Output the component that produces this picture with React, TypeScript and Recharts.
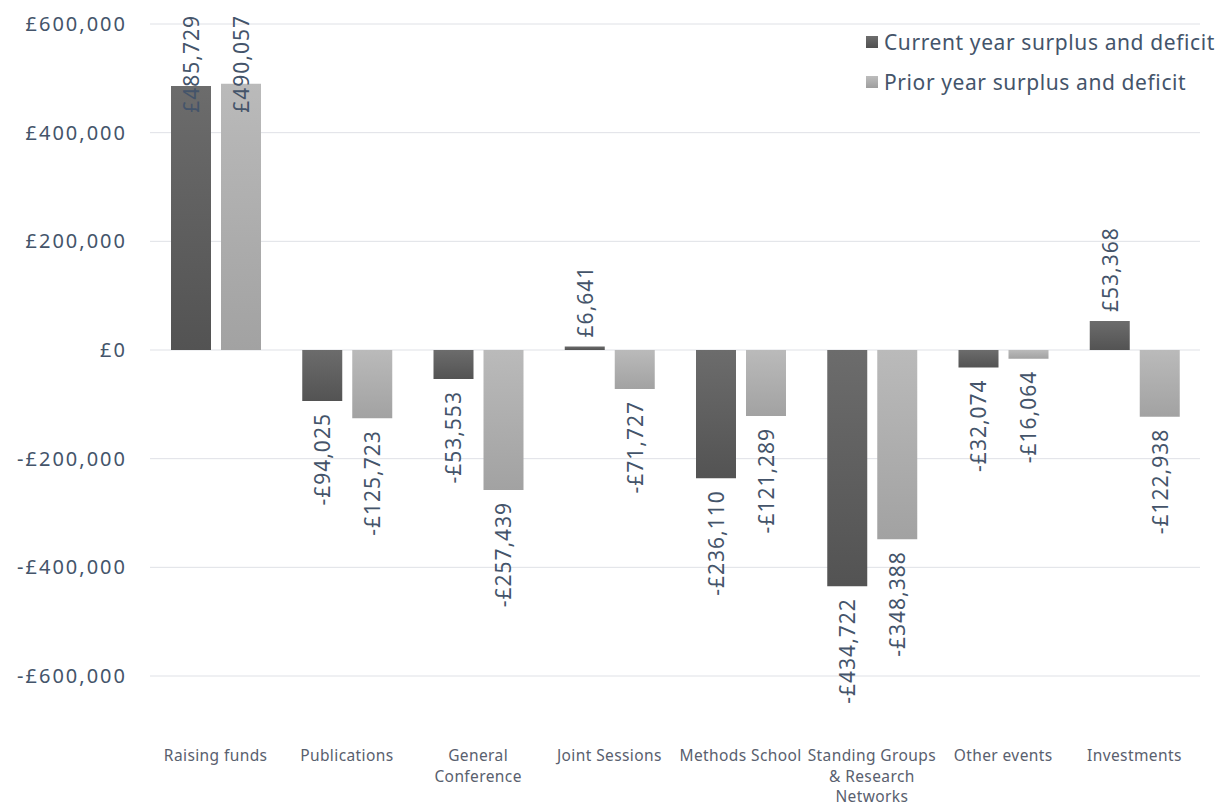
import React from "react";
import { BarChart, Bar, XAxis, YAxis, CartesianGrid, LabelList } from "recharts";

const categories = [
  "Raising funds",
  "Publications",
  "General\nConference",
  "Joint Sessions",
  "Methods School",
  "Standing Groups\n& Research\nNetworks",
  "Other events",
  "Investments",
];
const currentYear = [485729, -94025, -53553, 6641, -236110, -434722, -32074, 53368];
const priorYear = [490057, -125723, -257439, -71727, -121289, -348388, -16064, -122938];
const yTicks = [-600000, -400000, -200000, 0, 200000, 400000, 600000];

const seriesNames = ["Current year surplus and deficit", "Prior year surplus and deficit"];

const data = categories.map((name, i) => ({
  name,
  current: currentYear[i],
  prior: priorYear[i],
}));

const FONT = "'Noto Sans', sans-serif";
const TEXT = "#44546a";
const CAT_TEXT = "#59606e";
const WIDTH = 1215;
const HEIGHT = 798;
const TOP = 16;
const BOTTOM_AXIS = HEIGHT - 668;

const fmt = (v: number) => {
  const s = "£" + Math.abs(v).toLocaleString("en-GB");
  return v < 0 ? "-" + s : s;
};

const ValueLabel = (props: any) => {
  const { x, y, width, height, value } = props;
  const fs = 21;
  const cx = x + width / 2;
  const top = Math.min(y, y + height);
  const bottom = Math.max(y, y + height);
  const text = fmt(value);
  const est = text.length * 11.5;
  let py: number;
  let anchor: "start" | "end";
  if (value >= 0) {
    py = top - 9;
    anchor = "start";
    if (py - est < 7) {
      py = 7;
      anchor = "end";
    }
  } else {
    py = bottom + 12;
    anchor = "end";
  }
  return (
    <text
      x={cx}
      y={py}
      transform={`rotate(-90 ${cx} ${py})`}
      textAnchor={anchor}
      dominantBaseline="central"
      fill={TEXT}
      fontSize={fs}
      letterSpacing={1}
      fontFamily={FONT}
    >
      {text}
    </text>
  );
};

const CategoryTick = (props: any) => {
  const { x, y, payload } = props;
  const lines = String(payload.value).split("\n");
  return (
    <text
      x={x}
      y={y}
      textAnchor="middle"
      fill={CAT_TEXT}
      fontSize={15.5}
      letterSpacing={0.4}
      fontFamily={FONT}
    >
      {lines.map((l, i) => (
        <tspan key={i} x={x} dy={i === 0 ? 77 : 20.5}>
          {l}
        </tspan>
      ))}
    </text>
  );
};

const ChartLegend = () => (
  <div
    style={{
      position: "absolute",
      top: 14,
      left: 858,
      fontFamily: FONT,
      fontSize: 21,
      letterSpacing: 0.6,
      color: TEXT,
      lineHeight: "40px",
    }}
  >
    {seriesNames.map((n, i) => (
      <div key={n} style={{ display: "flex", alignItems: "center", whiteSpace: "nowrap" }}>
        <span
          style={{
            display: "inline-block",
            width: 12,
            height: 12,
            marginRight: 6,
            background: i === 0 ? "linear-gradient(#6e6e6e,#505050)" : "linear-gradient(#bdbdbd,#9e9e9e)",
          }}
        />
        {n}
      </div>
    ))}
  </div>
);

export default function App() {
  return (
    <div style={{ position: "relative", width: WIDTH, height: HEIGHT }}>
      <BarChart
        width={WIDTH}
        height={HEIGHT}
        data={data}
        margin={{ top: TOP, right: 23, left: 0, bottom: 0 }}
        barSize={40}
        barGap={10}
      >
        <defs>
          <linearGradient id="gradCurrent" x1="0" y1="0" x2="0" y2="1">
            <stop offset="0%" stopColor="#6c6c6c" />
            <stop offset="100%" stopColor="#535353" />
          </linearGradient>
          <linearGradient id="gradPrior" x1="0" y1="0" x2="0" y2="1">
            <stop offset="0%" stopColor="#bababa" />
            <stop offset="100%" stopColor="#a2a2a2" />
          </linearGradient>
        </defs>
        <CartesianGrid vertical={false} stroke="#dfe1e6" strokeWidth={1} />
        <XAxis
          dataKey="name"
          axisLine={false}
          tickLine={false}
          height={BOTTOM_AXIS}
          interval={0}
          tick={<CategoryTick />}
        />
        <YAxis
          domain={[-600000, 600000]}
          ticks={yTicks}
          width={142}
          axisLine={false}
          tickLine={false}
          tickSize={0}
          tickMargin={23}
          tickFormatter={fmt}
          tick={{ fill: TEXT, fontSize: 20, fontFamily: FONT, letterSpacing: 2 }}
        />
        <Bar dataKey="current" name={seriesNames[0]} fill="url(#gradCurrent)" isAnimationActive={false}>
          <LabelList dataKey="current" content={<ValueLabel />} />
        </Bar>
        <Bar dataKey="prior" name={seriesNames[1]} fill="url(#gradPrior)" isAnimationActive={false}>
          <LabelList dataKey="prior" content={<ValueLabel />} />
        </Bar>
      </BarChart>
      <ChartLegend />
    </div>
  );
}
